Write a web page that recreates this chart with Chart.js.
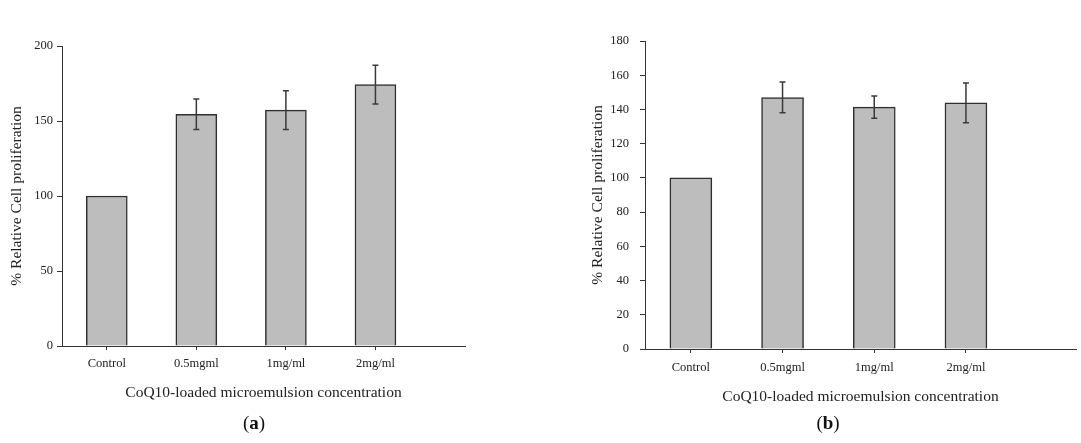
<!DOCTYPE html>
<html>
<head>
<meta charset="utf-8">
<script src="https://cdn.jsdelivr.net/npm/chart.js@4/dist/chart.umd.min.js"></script>
<style>
    body { margin: 0; background: #fff; }
    #page { position: relative; width: 1081px; height: 443px; overflow: hidden; font-family: "Liberation Serif", "DejaVu Serif", serif; }
    .panel { position: absolute; top: 0; height: 443px; }
    #panelA { left: 0; width: 540px; }
    #panelB { left: 540px; width: 541px; }
    .caption { position: absolute; top: 412px; font-size: 19px; color: #111; transform: translateX(-50%); }
</style>
</head>
<body>
<div id="page">
    <div class="panel" id="panelA"><canvas id="chartA"></canvas></div>
    <div class="panel" id="panelB"><canvas id="chartB"></canvas></div>
    <div class="caption" style="left:254px">(<b>a</b>)</div>
    <div class="caption" style="left:828px">(<b>b</b>)</div>
</div>
<script>
var categories = ['Control', '0.5mgml', '1mg/ml', '2mg/ml'];
var positions = [1, 2, 3, 4];

var valuesA = [100, 154.5, 157.3, 174.2];
var errorsA = [0, 10.2, 12.9, 12.9];
var yTicksA = [0, 50, 100, 150, 200];

var valuesB = [100, 147, 141.4, 143.8];
var errorsB = [0, 9, 6.5, 11.6];
var yTicksB = [0, 20, 40, 60, 80, 100, 120, 140, 160, 180];

var serif = '"Liberation Serif", "DejaVu Serif", serif';
var axisColor = '#333';

// error bars on top of the bars, drawn through the chart's own scales
var errorBarPlugin = {
    id: 'errorBars',
    afterDatasetsDraw: function (chart) {
        var ctx = chart.ctx;
        var xs = chart.scales.x, ys = chart.scales.y;
        var errs = chart.options.plugins.errorBars.errors;
        var vals = chart.data.datasets[0].data;
        ctx.save();
        ctx.strokeStyle = '#3a3a3a';
        ctx.lineWidth = 1.5;
        for (var i = 0; i < vals.length; i++) {
            if (!errs[i]) continue;
            var x = xs.getPixelForValue(vals[i].x);
            var top = ys.getPixelForValue(vals[i].y + errs[i]);
            var bot = ys.getPixelForValue(vals[i].y - errs[i]);
            ctx.beginPath();
            ctx.moveTo(x, top); ctx.lineTo(x, bot);
            ctx.moveTo(x - 3, top); ctx.lineTo(x + 3, top);
            ctx.moveTo(x - 3, bot); ctx.lineTo(x + 3, bot);
            ctx.stroke();
        }
        ctx.restore();
    }
};

function makeChart(id, values, errors, yTicks, cfg) {
    var points = values.map(function (v, i) { return { x: positions[i], y: v }; });
    return new Chart(document.getElementById(id), {
        type: 'bar',
        data: {
            datasets: [{
                data: points,
                backgroundColor: '#bdbdbd',
                borderColor: '#2f2f2f',
                borderWidth: 1.5,
                borderSkipped: 'start',
                barThickness: cfg.barWidth
            }]
        },
        plugins: [errorBarPlugin],
        options: {
            responsive: true,
            maintainAspectRatio: false,
            animation: false,
            layout: { padding: { left: cfg.padLeft, top: cfg.padTop, right: cfg.padRight, bottom: 0 } },
            plugins: {
                legend: { display: false },
                tooltip: { enabled: false },
                errorBars: { errors: errors }
            },
            scales: {
                x: {
                    type: 'linear',
                    min: 0.5,
                    max: cfg.xMax,
                    offset: false,
                    afterBuildTicks: function (s) { s.ticks = positions.map(function (p) { return { value: p }; }); },
                    afterFit: function (s) { s.height = cfg.xHeight; },
                    grid: { offset: false, drawOnChartArea: false, drawTicks: true, tickLength: 4, color: axisColor },
                    border: { display: true, color: axisColor, width: 1 },
                    ticks: {
                        padding: cfg.xTickPad,
                        maxRotation: 0,
                        autoSkip: false,
                        color: '#222',
                        font: { family: serif, size: 12.5 },
                        callback: function (v) { return categories[positions.indexOf(v)]; }
                    },
                    title: {
                        display: true,
                        text: 'CoQ10-loaded microemulsion concentration',
                        color: '#222',
                        font: { family: serif, size: 15.5 },
                        padding: { top: 0, bottom: cfg.xTitlePad }
                    }
                },
                y: {
                    min: 0,
                    max: yTicks[yTicks.length - 1],
                    afterBuildTicks: function (s) { s.ticks = yTicks.map(function (v) { return { value: v }; }); },
                    afterFit: function (s) { s.width = cfg.yWidth; },
                    grid: { drawOnChartArea: false, drawTicks: true, tickLength: 5, color: axisColor },
                    border: { display: true, color: axisColor, width: 1 },
                    ticks: { padding: cfg.yTickPad, color: '#222', font: { family: serif, size: 12.5 } },
                    title: {
                        display: true,
                        text: '% Relative Cell proliferation',
                        color: '#222',
                        font: { family: serif, size: 15.5 },
                        padding: { top: cfg.yTitlePad, bottom: 0 }
                    }
                }
            }
        }
    });
}

makeChart('chartA', valuesA, errorsA, yTicksA, {
    padLeft: 0, padTop: 46, padRight: 75,
    yWidth: 62, xHeight: 97, xMax: 5.0, barWidth: 41,
    xTickPad: 6, yTickPad: 4, xTitlePad: 41, yTitlePad: 8
});

makeChart('chartB', valuesB, errorsB, yTicksB, {
    padLeft: 40, padTop: 41, padRight: 5,
    yWidth: 65, xHeight: 94, xMax: 5.2, barWidth: 42,
    xTickPad: 7, yTickPad: 11, xTitlePad: 37, yTitlePad: 9
});
</script>
</body>
</html>
